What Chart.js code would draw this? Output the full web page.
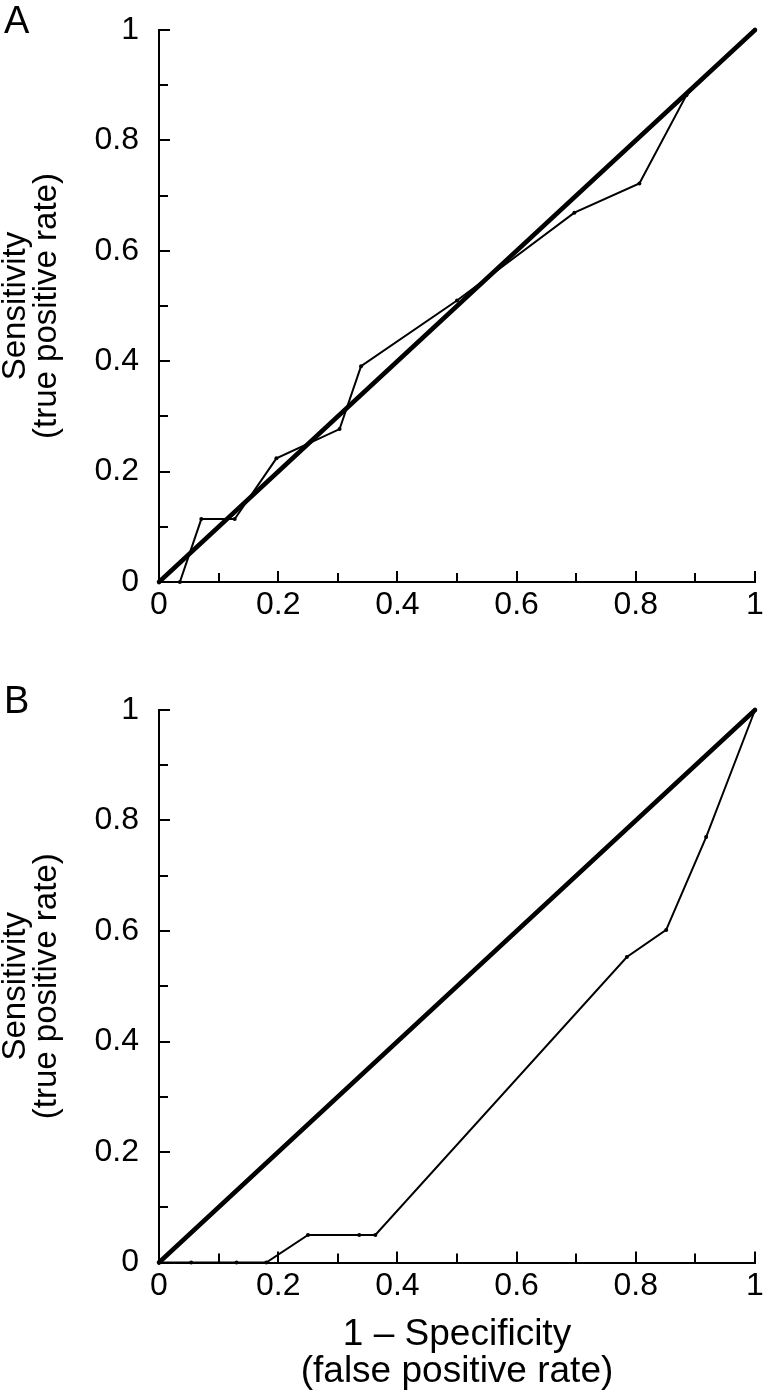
<!DOCTYPE html>
<html><head><meta charset="utf-8">
<script src="https://cdn.jsdelivr.net/npm/chart.js@4/dist/chart.umd.min.js"></script>
<style>
html,body{margin:0;padding:0;background:#fff;}
body{width:775px;height:1400px;position:relative;overflow:hidden;font-family:"Liberation Sans",Arial,sans-serif;}
.wrap{position:absolute;left:0;width:775px;}
#wa{top:0;height:650px;}
#wb{top:650px;height:750px;}
.panel{position:absolute;font-size:38px;color:#000;left:4px;line-height:1;}
</style></head><body>
<div class="wrap" id="wa"><canvas id="ca" width="775" height="650"></canvas></div>
<div class="wrap" id="wb"><canvas id="cb" width="775" height="750"></canvas></div>
<div class="panel" style="top:1px">A</div>
<div class="panel" style="top:681px">B</div>
<script>
// ---- data ----
const diagX = [0, 1];
const diagY = [0, 1];
const fprA = [0, 0.035, 0.071, 0.127, 0.197, 0.303, 0.339, 0.5, 0.697, 0.806, 0.885, 1];
const tprA = [0, 0, 0.114, 0.114, 0.224, 0.277, 0.391, 0.51, 0.669, 0.722, 0.882, 1];
const fprB = [0, 0.054, 0.13, 0.18, 0.25, 0.336, 0.363, 0.785, 0.851, 0.918, 1];
const tprB = [0, 0, 0, 0, 0.05, 0.05, 0.05, 0.553, 0.602, 0.77, 1];
const majorTicks = [0, 0.2, 0.4, 0.6, 0.8, 1];
const tickLabels = ['0', '0.2', '0.4', '0.6', '0.8', '1'];
const minorTicks = [0, 0.1, 0.2, 0.3, 0.4, 0.5, 0.6, 0.7, 0.8, 0.9, 1];
const yTitle = ['Sensitivity', '(true positive rate)'];
const xTitle = ['1 \u2013 Specificity', '(false positive rate)'];

const FAM = "'Liberation Sans', Arial, Helvetica, sans-serif";
Chart.defaults.font.family = FAM;
Chart.defaults.color = '#000';

const inTicks = {
  id: 'inTicks',
  beforeDatasetsDraw(chart) {
    const {ctx, scales: {x, y}, chartArea: a} = chart;
    ctx.save();
    ctx.strokeStyle = '#000';
    ctx.lineWidth = 2;
    minorTicks.forEach((v, i) => {
      const len = (i % 2 === 0) ? 11 : 9;
      const px = Math.round(x.getPixelForValue(v));
      ctx.beginPath(); ctx.moveTo(px, a.bottom); ctx.lineTo(px, a.bottom - len); ctx.stroke();
      const py = Math.round(y.getPixelForValue(v));
      ctx.beginPath(); ctx.moveTo(a.left, py); ctx.lineTo(a.left + len, py); ctx.stroke();
    });
    ctx.restore();
  }
};

function setTicks(s) { s.ticks = majorTicks.map(v => ({value: v})); }
function lab(v) { const i = majorTicks.indexOf(v); return i >= 0 ? tickLabels[i] : ''; }

function makeChart(id, fpr, tpr, cfg) {
  return new Chart(document.getElementById(id), {
    type: 'line',
    data: {datasets: [
      {data: diagX.map((x, i) => ({x, y: diagY[i]})), borderColor: '#000', borderWidth: 4.5,
       pointRadius: 0, tension: 0, clip: 6, borderCapStyle: 'round'},
      {data: fpr.map((x, i) => ({x, y: tpr[i]})), borderColor: '#000', borderWidth: 2,
       pointRadius: 2, pointBackgroundColor: '#000', pointBorderWidth: 0, tension: 0, clip: 6}
    ]},
    options: {
      responsive: false, animation: false, events: [],
      layout: {padding: {left: 0, top: cfg.top, right: 20, bottom: 0}},
      plugins: {legend: {display: false}, tooltip: {enabled: false}},
      scales: {
        x: {
          type: 'linear', min: 0, max: 1,
          afterBuildTicks: setTicks,
          afterFit: s => { s.height = cfg.xh; },
          ticks: {callback: v => lab(v), font: {size: 32}, color: '#000', padding: 4, maxRotation: 0, autoSkip: false},
          grid: {display: false, drawTicks: false},
          border: {display: true, color: '#000', width: 2},
          title: cfg.xTitle ? {display: true, text: xTitle, font: {size: 37, lineHeight: 1.0}, color: '#000', padding: {top: 0, bottom: 10}} : {display: false}
        },
        y: {
          type: 'linear', min: 0, max: 1,
          afterBuildTicks: setTicks,
          afterFit: s => { s.width = 159; s.paddingTop = 0; s.paddingBottom = 0; },
          ticks: {callback: v => lab(v), font: {size: 32}, color: '#000', padding: 20, autoSkip: false},
          grid: {display: false, drawTicks: false},
          border: {display: true, color: '#000', width: 2},
          title: {display: true, text: yTitle, font: {size: 33, lineHeight: 0.95}, color: '#000', padding: {top: 0, bottom: 0}}
        }
      }
    },
    plugins: [inTicks]
  });
}

makeChart('ca', fprA, tprA, {top: 30, xh: 68, xTitle: false});
makeChart('cb', fprB, tprB, {top: 60, xh: 137.5, xTitle: true});
</script>
</body></html>
